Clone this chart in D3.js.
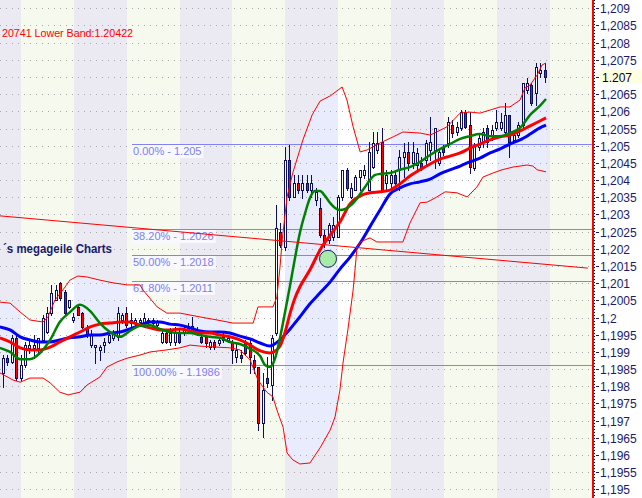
<!DOCTYPE html>
<html><head><meta charset="utf-8">
<script src="https://cdn.jsdelivr.net/npm/d3@7"></script>
<style>
html,body{margin:0;padding:0;background:#fff;}
svg{display:block;font-family:"Liberation Sans",Arial,sans-serif;}
</style></head><body>
<svg id="c" width="642" height="498"></svg>
<script>
// ---------- DATA ----------
const opens = [1.19839,1.19882,1.19871,1.19941,1.19824,1.19862,1.19912,1.19912,1.19912,1.19935,
1.19958,1.20013,1.20051,1.20101,1.20075,1.20031,1.19993,1.20031,1.20013,1.19970,
1.19920,1.19914,1.19906,1.19920,1.19929,1.19941,1.19944,1.19993,1.20013,1.19984,
1.19987,1.19987,1.19987,1.19987,1.19993,1.19978,1.19929,1.19955,1.19929,1.19929,
1.19958,1.19958,1.19964,1.19964,1.19955,1.19944,1.19944,1.19914,1.19929,1.19926,
1.19935,1.19935,1.19926,1.19885,1.19891,1.19926,1.19926,1.19877,1.19856,1.19693,
1.19824,1.19804,1.19955,1.20249,1.20205,1.20459,1.20351,1.20392,1.20371,1.20392,
1.20371,1.20342,1.20319,1.20240,1.20226,1.20235,1.20235,1.20351,1.20430,1.20351,
1.20371,1.20409,1.20415,1.20371,1.20438,1.20488,1.20511,1.20392,1.20392,1.20415,
1.20430,1.20467,1.20482,1.20450,1.20444,1.20450,1.20459,1.20488,1.20488,1.20450,
1.20494,1.20508,1.20560,1.20540,1.20552,1.20598,1.20560,1.20435,1.20496,1.20511,
1.20552,1.20531,1.20552,1.20552,1.20540,1.20590,1.20517,1.20531,1.20560,1.20662,
1.20677,1.20654,1.20712,1.20721];
const highs = [1.19891,1.19891,1.19949,1.19949,1.19891,1.19929,1.19935,1.19949,1.19941,1.20008,
1.20031,1.20095,1.20095,1.20104,1.20080,1.20051,1.20013,1.20037,1.20016,1.19978,
1.19964,1.19920,1.19920,1.19941,1.19958,1.19964,1.20031,1.20013,1.20031,1.20013,
1.19999,1.19999,1.20013,1.19999,1.19999,1.19993,1.19964,1.19964,1.19970,1.19973,
1.19964,1.19973,1.19984,1.20002,1.19973,1.19955,1.19949,1.19935,1.19935,1.19941,
1.19955,1.19949,1.19935,1.19926,1.19906,1.19935,1.19935,1.19891,1.19856,1.19839,
1.19885,1.19949,1.20328,1.20275,1.20496,1.20502,1.20415,1.20415,1.20415,1.20415,
1.20415,1.20377,1.20348,1.20255,1.20275,1.20293,1.20357,1.20430,1.20435,1.20392,
1.20415,1.20430,1.20444,1.20511,1.20540,1.20540,1.20552,1.20430,1.20430,1.20430,
1.20488,1.20508,1.20511,1.20511,1.20494,1.20467,1.20517,1.20584,1.20552,1.20494,
1.20502,1.20584,1.20575,1.20569,1.20604,1.20604,1.20598,1.20508,1.20531,1.20552,
1.20560,1.20560,1.20604,1.20595,1.20624,1.20590,1.20546,1.20569,1.20683,1.20697,
1.20683,1.20741,1.20741,1.20741];
const lows = [1.19798,1.19862,1.19868,1.19818,1.19818,1.19856,1.19897,1.19882,1.19897,1.19929,
1.19955,1.20008,1.20051,1.20051,1.20008,1.20028,1.19987,1.20008,1.19970,1.19944,
1.19914,1.19868,1.19877,1.19900,1.19926,1.19935,1.19935,1.19984,1.19973,1.19973,
1.19978,1.19978,1.19973,1.19978,1.19973,1.19964,1.19926,1.19926,1.19920,1.19920,
1.19926,1.19949,1.19955,1.19958,1.19949,1.19926,1.19914,1.19909,1.19909,1.19920,
1.19929,1.19929,1.19868,1.19871,1.19871,1.19891,1.19839,1.19839,1.19673,1.19653,
1.19798,1.19760,1.19949,1.20205,1.20197,1.20342,1.20351,1.20363,1.20348,1.20366,
1.20351,1.20328,1.20235,1.20205,1.20217,1.20226,1.20235,1.20342,1.20371,1.20348,
1.20371,1.20371,1.20406,1.20371,1.20435,1.20479,1.20371,1.20371,1.20380,1.20386,
1.20371,1.20409,1.20430,1.20435,1.20430,1.20430,1.20444,1.20459,1.20435,1.20444,
1.20473,1.20496,1.20526,1.20531,1.20546,1.20552,1.20421,1.20430,1.20488,1.20496,
1.20496,1.20517,1.20546,1.20546,1.20537,1.20467,1.20511,1.20526,1.20555,1.20654,
1.20619,1.20619,1.20700,1.20686];
const closes = [1.19882,1.19871,1.19941,1.19824,1.19862,1.19920,1.19920,1.19920,1.19941,1.19999,
1.20013,1.20072,1.20080,1.20057,1.20013,1.20051,1.20002,1.20008,1.19973,1.19949,
1.19949,1.19920,1.19914,1.19929,1.19949,1.19955,1.20013,1.20008,1.19978,1.19993,
1.19993,1.19993,1.19999,1.19993,1.19984,1.19987,1.19955,1.19929,1.19955,1.19955,
1.19929,1.19964,1.19970,1.19976,1.19964,1.19929,1.19926,1.19929,1.19914,1.19935,
1.19944,1.19941,1.19906,1.19906,1.19882,1.19897,1.19885,1.19856,1.19693,1.19789,
1.19810,1.19941,1.20261,1.20211,1.20459,1.20351,1.20392,1.20371,1.20392,1.20371,
1.20392,1.20366,1.20240,1.20217,1.20269,1.20269,1.20351,1.20430,1.20377,1.20377,
1.20409,1.20430,1.20430,1.20482,1.20508,1.20508,1.20371,1.20415,1.20415,1.20392,
1.20467,1.20482,1.20450,1.20482,1.20479,1.20435,1.20508,1.20511,1.20552,1.20482,
1.20482,1.20569,1.20537,1.20555,1.20598,1.20555,1.20438,1.20502,1.20523,1.20540,
1.20511,1.20546,1.20569,1.20569,1.20590,1.20511,1.20531,1.20560,1.20683,1.20683,
1.20624,1.20729,1.20721,1.20700];

// indicator lines: [bar index, price]
const maFast = [[-0.7,1.19912],[1.6,1.19900],[3.9,1.19879],[6.1,1.19879],[8.4,1.19897],[10.7,1.19935],[12.9,1.19987],[15.2,1.20016],[17.5,1.20037],[19.8,1.20019],[22.0,1.19984],[24.3,1.19958],[26.6,1.19944],[28.8,1.19961],[31.1,1.19976],[33.4,1.19978],[35.6,1.19967],[37.9,1.19958],[40.2,1.19955],[42.5,1.19955],[44.7,1.19949],[47.0,1.19944],[49.3,1.19941],[51.5,1.19929],[53.8,1.19923],[56.1,1.19909],[58.4,1.19888],[59.5,1.19862],[60.6,1.19856],[61.8,1.19882],[62.9,1.19941],[64.0,1.20013],[65.2,1.20095],[66.3,1.20173],[67.4,1.20246],[68.6,1.20304],[69.7,1.20348],[70.8,1.20368],[72.0,1.20368],[73.1,1.20354],[74.3,1.20333],[75.4,1.20319],[76.5,1.20313],[77.7,1.20316],[78.8,1.20325],[79.9,1.20339],[81.1,1.20360],[82.2,1.20380],[83.3,1.20400],[84.5,1.20415],[85.6,1.20418],[87.9,1.20421],[90.1,1.20430],[92.4,1.20438],[94.7,1.20453],[97.0,1.20473],[99.2,1.20490],[101.5,1.20505],[103.8,1.20520],[106.0,1.20528],[108.3,1.20534],[110.6,1.20528],[112.9,1.20528],[115.1,1.20537],[117.4,1.20552],[119.7,1.20590],[121.9,1.20616],[123.3,1.20636]];
const maMid = [[-0.7,1.19941],[1.6,1.19929],[3.9,1.19912],[6.1,1.19906],[8.4,1.19906],[10.7,1.19914],[12.9,1.19929],[15.2,1.19944],[17.5,1.19958],[19.8,1.19973],[22.0,1.19981],[24.3,1.19984],[26.6,1.19987],[28.8,1.19987],[31.1,1.19978],[33.4,1.19970],[35.6,1.19964],[37.9,1.19964],[40.2,1.19967],[42.5,1.19961],[44.7,1.19955],[47.0,1.19955],[49.3,1.19949],[51.5,1.19944],[53.8,1.19935],[56.1,1.19920],[58.4,1.19903],[60.6,1.19897],[61.8,1.19903],[62.9,1.19917],[64.0,1.19955],[65.2,1.20013],[66.3,1.20057],[67.4,1.20089],[69.7,1.20139],[72.0,1.20197],[74.3,1.20240],[76.5,1.20278],[78.8,1.20331],[81.1,1.20354],[83.3,1.20363],[85.6,1.20366],[87.9,1.20371],[90.1,1.20389],[92.4,1.20412],[94.7,1.20430],[97.0,1.20447],[99.2,1.20461],[101.5,1.20470],[103.8,1.20479],[106.0,1.20493],[108.3,1.20505],[110.6,1.20517],[112.9,1.20526],[115.1,1.20531],[117.4,1.20543],[119.7,1.20558],[121.9,1.20572],[123.3,1.20581]];
const maSlow = [[-0.7,1.19973],[1.6,1.19964],[3.9,1.19944],[6.1,1.19935],[8.4,1.19929],[10.7,1.19929],[12.9,1.19935],[15.2,1.19941],[17.5,1.19944],[19.8,1.19949],[22.0,1.19949],[24.3,1.19955],[26.6,1.19958],[28.8,1.19967],[31.1,1.19978],[33.4,1.19987],[35.6,1.19987],[37.9,1.19981],[40.2,1.19978],[42.5,1.19970],[44.7,1.19961],[47.0,1.19958],[49.3,1.19958],[51.5,1.19955],[53.8,1.19946],[56.1,1.19938],[58.4,1.19926],[60.6,1.19917],[62.9,1.19935],[65.2,1.19967],[67.4,1.20002],[69.7,1.20040],[72.0,1.20072],[74.3,1.20104],[76.5,1.20141],[78.8,1.20176],[81.1,1.20217],[83.3,1.20264],[85.6,1.20313],[87.9,1.20360],[90.1,1.20377],[92.4,1.20389],[94.7,1.20395],[97.0,1.20403],[99.2,1.20418],[101.5,1.20430],[103.8,1.20441],[106.0,1.20453],[108.3,1.20464],[110.6,1.20479],[112.9,1.20491],[115.1,1.20505],[117.4,1.20517],[119.7,1.20534],[121.9,1.20552],[123.3,1.20560]];
const bbUpper = [[-0.7,1.20045],[1.6,1.20042],[3.9,1.20016],[6.1,1.19993],[9.1,1.19987],[10.2,1.20002],[11.8,1.20051],[14.1,1.20089],[15.2,1.20109],[17.0,1.20121],[19.1,1.20118],[22.0,1.20109],[25.0,1.20101],[28.2,1.20095],[31.1,1.20095],[31.8,1.20080],[35.0,1.20031],[37.2,1.20013],[40.2,1.20013],[44.7,1.20002],[48.6,1.19993],[52.2,1.19984],[56.8,1.19984],[57.9,1.20031],[61.3,1.20031],[62.2,1.20060],[62.9,1.20147],[63.4,1.20226],[64.5,1.20351],[65.8,1.20421],[68.1,1.20517],[70.2,1.20590],[72.0,1.20630],[74.3,1.20645],[77.0,1.20671],[78.1,1.20633],[79.5,1.20555],[81.1,1.20482],[82.7,1.20488],[85.6,1.20508],[88.6,1.20526],[90.8,1.20540],[94.7,1.20537],[97.0,1.20531],[100.8,1.20555],[103.8,1.20595],[106.0,1.20598],[108.3,1.20595],[110.6,1.20604],[112.9,1.20613],[115.1,1.20613],[117.4,1.20633],[118.5,1.20668],[119.7,1.20677],[121.3,1.20706],[122.4,1.20735],[123.3,1.20741]];
const bbLower = [[-0.7,1.19839],[2.3,1.19818],[3.9,1.19812],[6.1,1.19824],[9.1,1.19824],[10.7,1.19810],[12.9,1.19783],[14.8,1.19775],[17.5,1.19783],[19.1,1.19804],[22.0,1.19827],[23.6,1.19856],[25.9,1.19871],[28.2,1.19882],[31.1,1.19891],[33.4,1.19900],[37.2,1.19906],[40.2,1.19912],[42.5,1.19920],[44.7,1.19917],[48.6,1.19914],[51.5,1.19912],[53.8,1.19906],[56.1,1.19877],[57.9,1.19818],[59.9,1.19783],[61.3,1.19769],[62.2,1.19731],[63.6,1.19681],[64.5,1.19606],[65.8,1.19586],[67.4,1.19574],[69.7,1.19577],[72.0,1.19621],[74.3,1.19673],[75.4,1.19711],[76.5,1.19789],[77.2,1.19868],[78.3,1.19964],[79.5,1.20080],[80.4,1.20205],[81.1,1.20220],[83.3,1.20232],[84.9,1.20220],[90.8,1.20220],[92.4,1.20275],[94.7,1.20334],[96.3,1.20336],[98.1,1.20348],[100.4,1.20366],[103.1,1.20363],[105.4,1.20351],[107.6,1.20380],[109.0,1.20409],[111.3,1.20421],[113.3,1.20430],[115.8,1.20438],[119.0,1.20444],[120.3,1.20441],[121.3,1.20430],[123.3,1.20424]];
const trendLine = [[-0.7,1.20296],[132.8,1.20144]];
const fibHigh = 1.20504, fibLow = 1.19862, fibStartIndex = 29.3;
const fibRatios = [0, 0.382, 0.5, 0.618, 1];
const fibLabels = ["0.00% - 1.205","38.20% - 1.2026","50.00% - 1.2018","61.80% - 1.2011","100.00% - 1.1986"];
const yTickValues = [1.195,1.1955,1.196,1.1965,1.197,1.1975,1.198,1.1985,1.199,1.1995,1.2,1.2005,1.201,1.2015,1.202,1.2025,1.203,1.2035,1.204,1.2045,1.205,1.2055,1.206,1.2065,1.207,1.2075,1.208,1.2085,1.209];
const yTickLabels = ["1,195","1,1955","1,196","1,1965","1,197","1,1975","1,198","1,1985","1,199","1,1995","1,2","1,2005","1,201","1,2015","1,202","1,2025","1,203","1,2035","1,204","1,2045","1,205","1,2055","1,206","1,2065","1,207","1,2075","1,208","1,2085","1,209"];
const lastPrice = 1.207, lastPriceLabel = "1.207";
const markerPoint = [73.8, 1.20171];
const headerText = "20741 Lower Band:1.20422";
const watermarkText = "´s megageile Charts";
const barsPerSession = 12, sessionOffset = 4.1;

// ---------- LAYOUT ----------
const W = 642, H = 498, plotR = 592;
const svg = d3.select("#c");
const x = d3.scaleLinear().domain([0, 123]).range([3, 3 + 123 * 4.404]);
const y = d3.scaleLinear().domain([1.195, 1.209]).range([489.4, 8.3]);
const defs = svg.append("defs");
defs.append("clipPath").attr("id","plot").append("rect").attr("x",0).attr("y",0).attr("width",plotR).attr("height",H);

// session columns
const cols = [];
for (let k = -1; k <= 11; k++) {
  const a = x(sessionOffset + barsPerSession * k), b = x(sessionOffset + barsPerSession * (k + 1));
  cols.push({x0: Math.round(a), x1: Math.round(b), cream: (k % 2 === 0)});
}
const gCols = defs.append("clipPath").attr("id","grayCols");
const cCols = defs.append("clipPath").attr("id","creamCols");
cols.forEach(c => {
  (c.cream ? cCols : gCols).append("rect").attr("x",c.x0).attr("y",0).attr("width",c.x1-c.x0).attr("height",H);
});

const plot = svg.append("g").attr("clip-path","url(#plot)");
plot.selectAll("rect.col").data(cols).enter().append("rect")
  .attr("x",d=>d.x0).attr("y",0).attr("width",d=>d.x1-d.x0).attr("height",H)
  .attr("fill",d=>d.cream ? "#f6f9ee" : "#ebe9f1");

// Bollinger fill
const line = d3.line().x(d=>x(d[0])).y(d=>y(d[1]));
const bandPts = bbUpper.concat(bbLower.slice().reverse());
const bandPath = line(bandPts) + "Z";
plot.append("g").attr("clip-path","url(#grayCols)").append("path").attr("d",bandPath).attr("fill","#e8ecfd");
plot.append("g").attr("clip-path","url(#creamCols)").append("path").attr("d",bandPath).attr("fill","#ffffff");

// grid
plot.selectAll("line.grid").data(yTickValues).enter().append("line")
  .attr("x1",0).attr("x2",plotR)
  .attr("y1",d=>Math.round(y(d))+0.5).attr("y2",d=>Math.round(y(d))+0.5)
  .attr("stroke","#a9a9a9").attr("stroke-dasharray","1,5");

// Fibonacci
const fibLevels = fibRatios.map((r,i)=>({v: fibHigh - r*(fibHigh-fibLow), label: fibLabels[i]}));
const fx0 = Math.round(x(fibStartIndex));
const fibG = plot.append("g");
fibLevels.forEach(f => {
  const yy = Math.round(y(f.v)) + 0.5;
  fibG.append("line").attr("x1",fx0).attr("x2",plotR).attr("y1",yy).attr("y2",yy)
    .attr("stroke","#8282f2").attr("stroke-width",1);
  const bg = fibG.append("rect").attr("fill","#f8f8fe");
  const t = fibG.append("text").attr("x",fx0+1).attr("y",yy+10.5).attr("font-size",11)
    .attr("fill","#8080f0").text(f.label);
  const w = t.node().getComputedTextLength();
  bg.attr("x",fx0).attr("y",yy+0.5).attr("width",w+3).attr("height",13);
});

// candles
const candles = opens.map((o,i)=>({i, o, h: highs[i], l: lows[i], c: closes[i]}));
const cg = plot.append("g");
candles.forEach(d => {
  const r = Math.round(x(d.i));
  cg.append("line").attr("x1",r+0.5).attr("x2",r+0.5)
    .attr("y1",Math.round(y(d.h))).attr("y2",Math.round(y(d.l))+1)
    .attr("stroke","#0e0e5e").attr("stroke-width",1);
  const top = Math.round(y(Math.max(d.o,d.c))), bot = Math.round(y(Math.min(d.o,d.c)));
  cg.append("rect").attr("x",r-0.5).attr("y",top+0.5).attr("width",2).attr("height",Math.max(1,bot-top))
    .attr("fill", d.c >= d.o ? "#ffffff" : "#ff0000").attr("stroke","#0e0e5e").attr("stroke-width",1);
});

// moving averages
const smooth = d3.line().x(d=>x(d[0])).y(d=>y(d[1])).curve(d3.curveMonotoneX);
plot.append("path").attr("d",smooth(maSlow)).attr("fill","none").attr("stroke","#0000ff").attr("stroke-width",3);
plot.append("path").attr("d",smooth(maMid)).attr("fill","none").attr("stroke","#ff0000").attr("stroke-width",3);
plot.append("path").attr("d",smooth(maFast)).attr("fill","none").attr("stroke","#008000").attr("stroke-width",2.5);

// bands
plot.append("path").attr("d",line(bbUpper)).attr("fill","none").attr("stroke","#ff0000").attr("stroke-width",1);
plot.append("path").attr("d",line(bbLower)).attr("fill","none").attr("stroke","#ff0000").attr("stroke-width",1);

// trend line
plot.append("path").attr("d",line(trendLine)).attr("fill","none").attr("stroke","#ff0000").attr("stroke-width",1);

// marker
plot.append("circle").attr("cx",x(markerPoint[0])).attr("cy",y(markerPoint[1])).attr("r",8.5)
  .attr("fill","#a8eaa8").attr("stroke","#1c1c6c").attr("stroke-width",1);

// texts
plot.append("text").attr("x",2).attr("y",37).attr("font-size",11.5)
  .attr("textLength",131).attr("lengthAdjust","spacingAndGlyphs")
  .attr("fill","#ff0000").text(headerText);
plot.append("text").attr("x",3).attr("y",253).attr("font-size",12)
  .attr("textLength",109).attr("lengthAdjust","spacingAndGlyphs")
  .attr("font-weight","bold").attr("fill","#1a1a6c").text(watermarkText);

// axis
svg.append("rect").attr("x",plotR).attr("y",0).attr("width",W-plotR).attr("height",H).attr("fill","#ffffff");
svg.append("rect").attr("x",plotR).attr("y",0).attr("width",2).attr("height",H).attr("fill","#ff0000");
svg.append("line").attr("x1",594.5).attr("x2",594.5).attr("y1",0).attr("y2",H)
  .attr("stroke","#000").attr("stroke-dasharray","1,2");
const ax = svg.append("g");
yTickValues.forEach((v,i) => {
  const yy = Math.round(y(v)) + 0.5;
  ax.append("line").attr("x1",596).attr("x2",599).attr("y1",yy).attr("y2",yy).attr("stroke","#1a1a6a");
  if (v !== lastPrice) {
    ax.append("text").attr("x",600).attr("y",yy+4.5).attr("font-size",12).attr("fill","#1a1a6a").text(yTickLabels[i]);
  }
});
const py = Math.round(y(lastPrice));
ax.append("rect").attr("x",600).attr("y",py-7).attr("width",W-600).attr("height",14).attr("fill","#ffffe1");
ax.append("text").attr("x",602).attr("y",py+4.5).attr("font-size",12).attr("fill","#000030").text(lastPriceLabel);
</script>
</body></html>
